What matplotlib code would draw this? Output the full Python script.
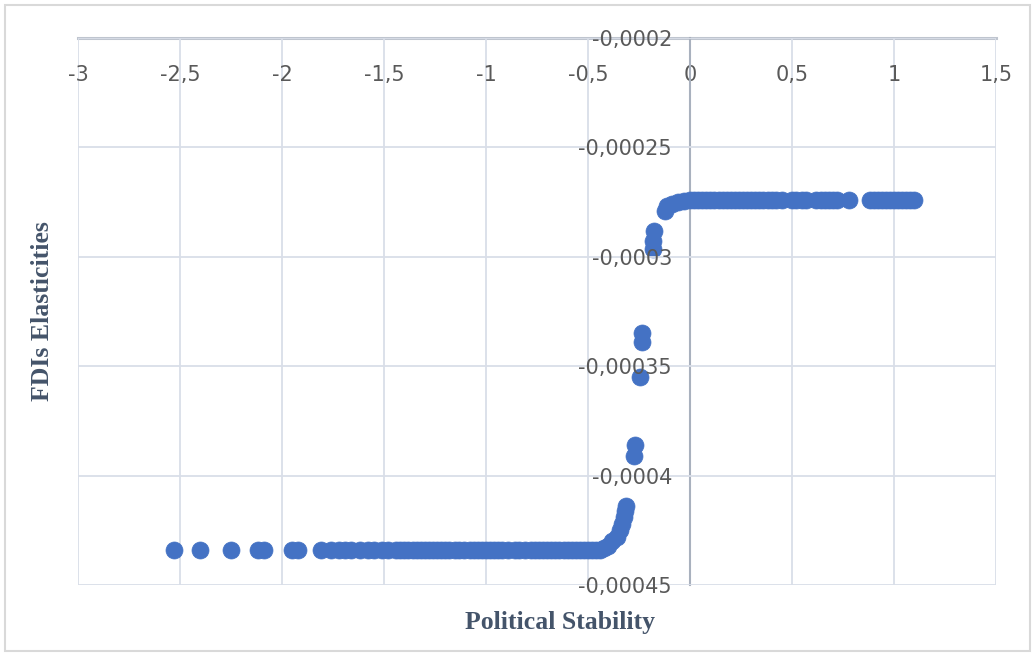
import matplotlib.pyplot as plt
from matplotlib.ticker import FuncFormatter, MultipleLocator
from matplotlib.patches import Rectangle

# lower plateau (political stability, elasticity)
low_x = [-2.53, -2.40, -2.25, -2.12, -2.09, -1.95, -1.92, -1.81, -1.76, -1.72,
         -1.69, -1.66, -1.62, -1.58, -1.55, -1.51, -1.48, -1.44, -1.42, -1.40,
         -1.38, -1.36, -1.34, -1.32, -1.30, -1.28, -1.26, -1.24, -1.22, -1.20,
         -1.18, -1.15, -1.13, -1.11, -1.08, -1.06, -1.04, -1.02, -1.00, -0.98,
         -0.96, -0.94, -0.92, -0.89, -0.86, -0.84, -0.81, -0.78, -0.76, -0.74,
         -0.72, -0.70, -0.68, -0.66, -0.64, -0.62, -0.60, -0.58, -0.56, -0.54,
         -0.52, -0.50, -0.48, -0.46, -0.44]
low_y = [-0.000434] * len(low_x)

# transition
mid_x = [-0.42, -0.40, -0.38, -0.36, -0.345, -0.335, -0.325, -0.318, -0.312,
         -0.275, -0.27, -0.245, -0.235, -0.235, -0.18, -0.18, -0.175,
         -0.125, -0.115, -0.09, -0.06, -0.03]
mid_y = [-0.000433, -0.000432, -0.000430, -0.000428, -0.000425, -0.000422,
         -0.000419, -0.000416, -0.000414, -0.000391, -0.000386, -0.000355,
         -0.000339, -0.000335, -0.0002965, -0.000293, -0.000288,
         -0.000279, -0.000277, -0.0002757, -0.0002748, -0.0002743]

# upper plateau
high_x = [0.00, 0.02, 0.04, 0.06, 0.08, 0.10, 0.12, 0.14, 0.16, 0.18, 0.20,
          0.22, 0.24, 0.26, 0.28, 0.30, 0.32, 0.34, 0.36, 0.38, 0.40, 0.42,
          0.45, 0.50, 0.52, 0.55, 0.57, 0.62, 0.64, 0.66, 0.68, 0.70, 0.72,
          0.78, 0.88, 0.90, 0.92, 0.94, 0.96, 0.98, 1.00, 1.02, 1.04, 1.06,
          1.08, 1.10]
high_y = [-0.000274] * len(high_x)

fig = plt.figure(figsize=(10.35, 6.55), dpi=100)
ax = fig.add_axes([0.0754, 0.1069, 0.8869, 0.8351])

blue = '#4472C4'
for xs, ys in [(low_x, low_y), (mid_x, mid_y), (high_x, high_y)]:
    ax.scatter(xs, ys, s=150, color=blue, edgecolor=blue, linewidth=0.5, zorder=3)

ax.set_xlim(-3, 1.5)
ax.set_ylim(-0.00045, -0.0002)
ax.xaxis.set_major_locator(MultipleLocator(0.5))
ax.yaxis.set_major_locator(MultipleLocator(0.00005))

fmt = FuncFormatter(lambda v, p: ('%g' % round(v, 8)).replace('.', ','))
ax.xaxis.set_major_formatter(fmt)
ax.yaxis.set_major_formatter(fmt)

ax.grid(True, color='#D9DEE8', linewidth=1.3, zorder=0)
for s in ['bottom', 'right']:
    ax.spines[s].set_visible(False)
ax.spines['top'].set_color('#BFC5CF')
ax.spines['top'].set_linewidth(2.2)
ax.spines['top'].set_zorder(1)
ax.spines['left'].set_position(('data', 0))
ax.spines['left'].set_color('#A9B1BE')
ax.spines['left'].set_linewidth(1.5)
ax.yaxis.set_zorder(4)

ax.tick_params(axis='x', top=True, labeltop=True, bottom=False, labelbottom=False,
               length=0, pad=-34, labelsize=15, labelcolor='#595959')
ax.tick_params(axis='y', length=0, pad=13, labelsize=15, labelcolor='#595959')

ax.xaxis.set_label_position('bottom')
ax.set_xlabel('Political Stability', family='Liberation Serif', fontweight='bold',
              fontsize=18.5, color='#44546A')
ax.xaxis.set_label_coords(0.525, -0.048)
ax.set_ylabel('FDIs Elasticities', family='Liberation Serif', fontweight='bold',
              fontsize=18.5, color='#44546A')
ax.yaxis.set_label_coords(-0.026, 0.5)

fig.patches.append(Rectangle((0.005, 0.006), 0.99, 0.987, transform=fig.transFigure,
                             fill=False, edgecolor='#D9D9D9', linewidth=1.5))

fig.savefig('out.png', dpi=100)
